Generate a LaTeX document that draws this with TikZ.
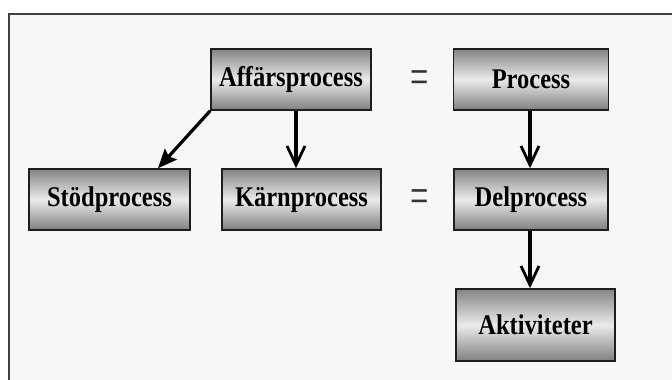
\documentclass[tikz,border=0pt]{standalone}
\usepackage{fontspec}
\setmainfont{Liberation Serif}[FakeStretch=0.86]
\usetikzlibrary{arrows.meta}
\definecolor{panel}{HTML}{F7F7F7}
\definecolor{framec}{HTML}{404040}
\definecolor{edgec}{HTML}{1E1E1E}
\tikzset{
  procbox/.style={draw=edgec, line width=1.5pt, rectangle, inner sep=0pt,
    top color=black!48, bottom color=black!50, middle color=black!8,
    font=\fontsize{28.5}{30}\selectfont\bfseries, text=black},
  eqsign/.style={font=\fontsize{36}{36}\selectfont, text=black!80, inner sep=0pt},
  vlink/.style={line width=3.2pt, -{Straight Barb[length=19pt,width=18pt,line width=2.8pt]}},
  dlink/.style={line width=3.2pt, -{Stealth[length=19pt,width=16pt,inset=3pt]}}
}
\begin{document}
\begin{tikzpicture}[x=1pt,y=-1pt]
  \useasboundingbox (0,0) rectangle (672,380);
  \fill[white] (0,0) rectangle (672,380);
  % panel with its left and top rule
  \fill[panel] (9,14) rectangle (672,380);
  \draw[framec, line width=2pt] (9,380) -- (9,14) -- (672,14);

  % process boxes
  \node[procbox, minimum width=160pt, minimum height=61pt] (aff) at (291,79.5) {Affärsprocess};
  \node[procbox, minimum width=155pt, minimum height=61pt] (prc) at (531,79.5) {Process};
  \node[procbox, minimum width=161pt, minimum height=61pt] (stod) at (109.5,199.5) {Stödprocess};
  \node[procbox, minimum width=159pt, minimum height=61pt] (karn) at (301.5,199.5) {Kärnprocess};
  \node[procbox, minimum width=154pt, minimum height=61pt] (del) at (531,199.5) {Delprocess};
  \node[procbox, minimum width=159pt, minimum height=72pt] (akt) at (535.5,325) {Aktiviteter};

  % equivalences
  \node[eqsign] (eq1) at (419.5,82.5) {\scalebox{1.05}[1.45]{=}};
  \node[eqsign] (eq2) at (419.5,202) {\scalebox{1.05}[1.45]{=}};

  % links
  \draw[dlink] (aff.south west) -- ([xshift=48.5pt]stod.north);
  \draw[vlink] ([xshift=5pt]aff.south) -- ([xshift=-5.5pt]karn.north);
  \draw[vlink] ([xshift=-1pt]prc.south) -- ([xshift=-1pt]del.north);
  \draw[vlink] ([xshift=-1pt]del.south) -- ([xshift=-5.5pt]akt.north);
\end{tikzpicture}
\end{document}
